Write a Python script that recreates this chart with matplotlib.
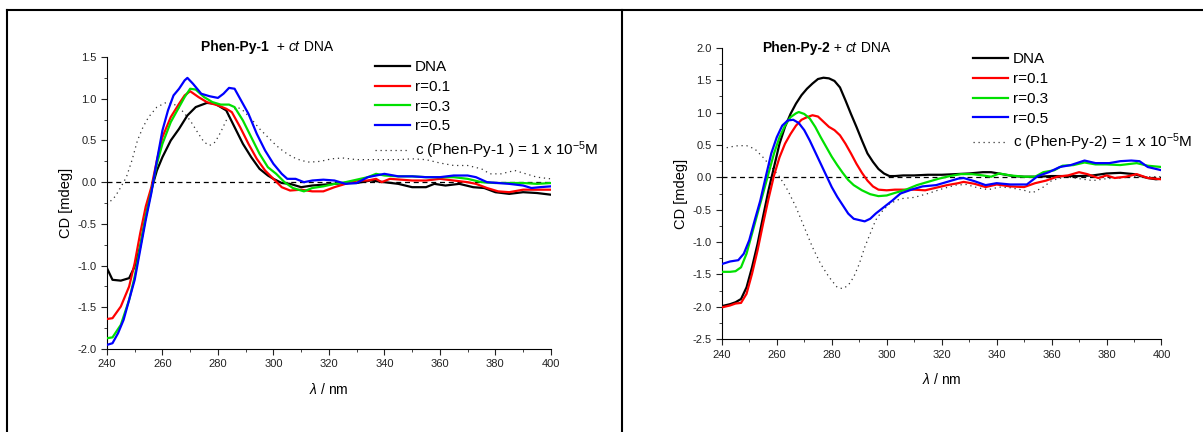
import matplotlib
matplotlib.use("Agg")
import matplotlib.pyplot as plt
from matplotlib.lines import Line2D
from matplotlib.ticker import MultipleLocator

plt.rcParams["font.family"] = ["Liberation Sans", "DejaVu Sans"]
plt.rcParams["mathtext.fontset"] = "custom"
plt.rcParams["mathtext.rm"] = "Liberation Sans"
plt.rcParams["mathtext.it"] = "Liberation Sans:italic"

# ----------------------------
# Data: Phen-Py-1 + ct DNA
# ----------------------------
p1_dna_x = [240, 242, 245, 248, 250, 252, 254, 256, 258, 260, 263, 266, 269, 272, 276, 279, 283, 286,
            289, 292, 295, 298, 300, 303, 306, 310, 314, 318, 322, 326, 330, 335, 340, 345, 350, 355,
            358, 362, 367, 372, 376, 380, 385, 390, 395, 400]
p1_dna_y = [-1.03, -1.17, -1.18, -1.15, -1.01, -0.77, -0.41, -0.09, 0.14, 0.30, 0.50, 0.64, 0.80, 0.90,
            0.95, 0.94, 0.86, 0.66, 0.46, 0.30, 0.16, 0.08, 0.04, -0.01, -0.02, -0.06, -0.04, -0.03,
            -0.02, -0.01, -0.01, 0.02, 0.00, -0.02, -0.06, -0.06, -0.02, -0.04, -0.02, -0.06, -0.07,
            -0.12, -0.14, -0.12, -0.13, -0.15]

p1_r01_x = [240, 242, 245, 248, 250, 252, 254, 256, 258, 260, 263, 266, 268, 270, 273, 276, 280, 283,
            285, 288, 291, 294, 297, 300, 303, 306, 310, 314, 318, 322, 326, 330, 334, 337, 339, 342,
            346, 350, 355, 360, 365, 370, 373, 377, 381, 385, 390, 395, 400]
p1_r01_y = [-1.64, -1.63, -1.49, -1.25, -0.97, -0.61, -0.29, -0.06, 0.26, 0.54, 0.78, 0.94, 1.04, 1.09,
            1.02, 0.96, 0.92, 0.88, 0.84, 0.66, 0.46, 0.28, 0.14, 0.04, -0.06, -0.10, -0.09, -0.11,
            -0.11, -0.06, -0.02, 0.02, 0.02, 0.04, 0.00, 0.04, 0.03, 0.02, 0.02, 0.04, 0.02, 0.00,
            -0.02, -0.07, -0.11, -0.12, -0.09, -0.09, -0.09]

p1_r03_x = [240, 242, 245, 248, 250, 252, 254, 256, 258, 260, 263, 266, 268, 270, 272, 275, 278, 281,
            284, 286, 289, 292, 295, 298, 301, 304, 307, 311, 314, 318, 322, 326, 330, 334, 337, 340,
            345, 350, 355, 360, 365, 370, 375, 380, 385, 390, 395, 400]
p1_r03_y = [-1.87, -1.86, -1.71, -1.41, -1.13, -0.77, -0.41, -0.11, 0.22, 0.46, 0.72, 0.90, 1.02, 1.12,
            1.11, 1.02, 0.96, 0.93, 0.93, 0.90, 0.74, 0.54, 0.34, 0.18, 0.10, 0.00, -0.07, -0.11, -0.07,
            -0.05, -0.02, 0.00, 0.03, 0.06, 0.10, 0.08, 0.07, 0.07, 0.06, 0.06, 0.06, 0.04, 0.00,
            -0.01, -0.01, -0.01, -0.02, -0.01]

p1_r05_x = [240, 242, 244, 246, 248, 250, 252, 254, 256, 258, 260, 262, 264, 266, 268, 269, 271, 274,
            277, 280, 282, 284, 286, 288, 291, 294, 297, 300, 303, 305, 308, 311, 314, 318, 322, 326,
            330, 334, 337, 340, 345, 350, 355, 360, 365, 370, 373, 377, 381, 385, 390, 393, 396, 400]
p1_r05_y = [-1.95, -1.93, -1.81, -1.65, -1.41, -1.17, -0.81, -0.45, -0.13, 0.26, 0.62, 0.86, 1.04, 1.12,
            1.22, 1.25, 1.18, 1.06, 1.03, 1.01, 1.06, 1.13, 1.12, 1.00, 0.82, 0.58, 0.38, 0.22, 0.10,
            0.04, 0.04, 0.00, 0.02, 0.03, 0.02, -0.02, -0.01, 0.06, 0.08, 0.10, 0.07, 0.07, 0.06, 0.06,
            0.08, 0.08, 0.06, 0.00, -0.01, -0.02, -0.04, -0.07, -0.06, -0.05]

p1_free_x = [240, 243, 245, 247, 249, 251, 253, 255, 258, 261, 264, 267, 270, 273, 275, 277, 279, 281,
             283, 285, 287, 289, 292, 295, 298, 301, 304, 307, 310, 313, 317, 321, 325, 330, 335, 340,
             345, 350, 355, 360, 365, 370, 375, 378, 382, 387, 391, 395, 400]
p1_free_y = [-0.27, -0.17, -0.06, 0.06, 0.26, 0.50, 0.66, 0.78, 0.90, 0.95, 0.94, 0.86, 0.74, 0.58, 0.48,
             0.44, 0.48, 0.60, 0.74, 0.86, 0.90, 0.86, 0.76, 0.64, 0.54, 0.44, 0.36, 0.30, 0.26, 0.24,
             0.25, 0.28, 0.29, 0.27, 0.27, 0.27, 0.27, 0.28, 0.27, 0.23, 0.20, 0.20, 0.16, 0.10, 0.10,
             0.14, 0.10, 0.06, 0.04]

# ----------------------------
# Data: Phen-Py-2 + ct DNA
# ----------------------------
p2_dna_x = [240, 243, 245, 247, 249, 251, 253, 255, 257, 259, 261, 263, 265, 267, 269, 271, 273, 275,
            277, 279, 281, 283, 285, 287, 289, 291, 293, 295, 297, 299, 301, 303, 306, 310, 315, 320,
            325, 330, 335, 338, 342, 346, 350, 355, 360, 365, 370, 375, 380, 385, 390, 395, 398, 400]
p2_dna_y = [-1.99, -1.96, -1.93, -1.88, -1.70, -1.39, -1.03, -0.61, -0.20, 0.16, 0.52, 0.78, 0.98, 1.14,
            1.27, 1.37, 1.45, 1.52, 1.54, 1.53, 1.49, 1.39, 1.19, 0.98, 0.78, 0.57, 0.37, 0.24, 0.13,
            0.06, 0.02, 0.02, 0.03, 0.03, 0.04, 0.04, 0.05, 0.06, 0.08, 0.08, 0.05, 0.02, 0.01, 0.01,
            0.02, 0.02, 0.02, 0.03, 0.06, 0.07, 0.05, -0.01, -0.03, -0.02]

p2_r01_x = [240, 243, 245, 247, 249, 251, 253, 255, 257, 259, 261, 263, 265, 267, 269, 271, 273, 275,
            277, 279, 281, 283, 285, 287, 289, 291, 293, 295, 297, 300, 303, 306, 310, 314, 318, 322,
            326, 328, 332, 336, 340, 345, 350, 354, 358, 362, 366, 370, 373, 377, 380, 383, 387, 391,
            395, 400]
p2_r01_y = [-2.01, -1.98, -1.95, -1.94, -1.80, -1.49, -1.13, -0.72, -0.33, 0.03, 0.31, 0.52, 0.67, 0.80,
            0.89, 0.93, 0.96, 0.94, 0.86, 0.78, 0.73, 0.65, 0.52, 0.37, 0.21, 0.07, -0.05, -0.14, -0.19,
            -0.20, -0.19, -0.19, -0.19, -0.20, -0.16, -0.12, -0.09, -0.07, -0.10, -0.15, -0.11, -0.14,
            -0.15, -0.09, -0.05, 0.01, 0.03, 0.08, 0.05, -0.01, 0.03, -0.01, 0.01, 0.05, -0.01, -0.03]

p2_r03_x = [240, 243, 245, 247, 249, 251, 253, 255, 257, 259, 261, 263, 265, 267, 268, 270, 272, 274,
            276, 278, 280, 282, 284, 286, 288, 291, 294, 297, 300, 303, 307, 311, 315, 319, 323, 327,
            331, 335, 338, 341, 345, 350, 354, 357, 361, 364, 368, 372, 376, 380, 385, 391, 395, 400]
p2_r03_y = [-1.46, -1.46, -1.45, -1.39, -1.18, -0.87, -0.56, -0.25, 0.06, 0.37, 0.62, 0.80, 0.93, 0.99,
            1.01, 0.98, 0.91, 0.78, 0.62, 0.47, 0.32, 0.19, 0.07, -0.04, -0.12, -0.20, -0.26, -0.29,
            -0.28, -0.24, -0.19, -0.12, -0.07, -0.02, 0.02, 0.05, 0.05, 0.03, 0.01, 0.06, 0.03, 0.01,
            0.01, 0.08, 0.11, 0.18, 0.19, 0.23, 0.20, 0.20, 0.19, 0.22, 0.18, 0.16]

p2_r05_x = [240, 243, 246, 248, 250, 252, 254, 256, 258, 260, 262, 264, 266, 268, 270, 272, 274, 276,
            278, 280, 282, 284, 286, 288, 290, 292, 294, 296, 299, 302, 305, 309, 313, 318, 322, 326,
            328, 332, 336, 340, 345, 351, 355, 359, 363, 367, 372, 376, 381, 385, 389, 392, 395, 400]
p2_r05_y = [-1.34, -1.30, -1.28, -1.18, -0.97, -0.66, -0.36, 0.01, 0.37, 0.62, 0.80, 0.88, 0.89, 0.84,
            0.73, 0.57, 0.39, 0.21, 0.03, -0.15, -0.30, -0.43, -0.56, -0.64, -0.66, -0.68, -0.64, -0.56,
            -0.46, -0.36, -0.25, -0.19, -0.14, -0.12, -0.07, -0.02, -0.01, -0.06, -0.12, -0.09, -0.11,
            -0.11, 0.02, 0.08, 0.16, 0.19, 0.26, 0.22, 0.22, 0.25, 0.26, 0.25, 0.16, 0.11]

p2_free_x = [240, 243, 246, 249, 252, 255, 258, 261, 264, 267, 270, 273, 276, 279, 282, 284, 286, 288,
             290, 292, 294, 296, 298, 301, 305, 310, 315, 320, 325, 329, 333, 337, 341, 345, 350, 353,
             357, 360, 365, 370, 375, 380, 385, 390, 395, 400]
p2_free_y = [0.44, 0.47, 0.49, 0.49, 0.44, 0.31, 0.16, 0.01, -0.20, -0.46, -0.77, -1.08, -1.34, -1.54,
             -1.70, -1.72, -1.67, -1.54, -1.34, -1.08, -0.87, -0.66, -0.54, -0.41, -0.33, -0.31, -0.25,
             -0.18, -0.12, -0.11, -0.16, -0.19, -0.15, -0.16, -0.20, -0.24, -0.15, -0.05, 0.01, -0.02,
             -0.05, -0.02, -0.01, 0.01, 0.01, 0.01]

labels = ["DNA", "r=0.1", "r=0.3", "r=0.5"]
colors = ["#000000", "#ff0000", "#00e000", "#0000ff"]


def style_axes(ax, ylo, yhi):
    ax.set_xlim(240, 400)
    ax.set_ylim(ylo, yhi)
    ax.spines["top"].set_visible(False)
    ax.spines["right"].set_visible(False)
    ax.xaxis.set_major_locator(MultipleLocator(20))
    ax.xaxis.set_minor_locator(MultipleLocator(10))
    ax.yaxis.set_major_locator(MultipleLocator(0.5))
    ax.yaxis.set_minor_locator(MultipleLocator(0.25))
    ax.tick_params(which="both", direction="out", labelsize=8, colors="#222222")
    ax.tick_params(which="major", length=4)
    ax.tick_params(which="minor", length=2.5)
    ax.yaxis.set_major_formatter(plt.FuncFormatter(lambda v, p: f"{v:.1f}"))
    ax.axhline(0, color="black", lw=0.9, ls=(0, (4, 3)), zorder=1)
    ax.set_xlabel(r"$\mathit{\lambda}$ / nm", fontsize=10, labelpad=9)
    ax.set_ylabel("CD [mdeg]", fontsize=10.5, labelpad=3)


def draw_panel(ax, series, free_x, free_y, free_label):
    handles = []
    for (x, y), lab, c in zip(series, labels, colors):
        h, = ax.plot(x, y, color=c, lw=1.6, label=lab, zorder=3)
        handles.append(h)
    h, = ax.plot(free_x, free_y, color="#333333", lw=0.9, ls=(0, (1, 3)), label=free_label, zorder=2)
    handles.append(h)
    return handles


def add_title(ax, x, y, name):
    t1 = ax.text(x, y, name, transform=ax.transAxes, fontsize=10, fontweight="bold",
                 ha="left", va="baseline")
    t2 = ax.annotate(" + ", xy=(1, 0), xycoords=t1, fontsize=10, va="bottom")
    t3 = ax.annotate("ct", xy=(1, 0), xycoords=t2, fontsize=10, style="italic", va="bottom")
    ax.annotate(" DNA", xy=(1, 0), xycoords=t3, fontsize=10, va="bottom")


def add_legend(ax, handles, x, y):
    ax.legend(handles=handles, loc="upper left", bbox_to_anchor=(x, y), bbox_transform=fig.transFigure,
              frameon=False, fontsize=11, handlelength=2.3, handletextpad=0.33, labelspacing=0.38,
              borderaxespad=0, borderpad=0)


fig = plt.figure(figsize=(12.03, 4.32), dpi=100)

ax1 = fig.add_axes([0.0889, 0.192, 0.369, 0.676])
style_axes(ax1, -2.0, 1.5)
h1 = draw_panel(ax1,
                [(p1_dna_x, p1_dna_y), (p1_r01_x, p1_r01_y), (p1_r03_x, p1_r03_y), (p1_r05_x, p1_r05_y)],
                p1_free_x, p1_free_y, r"c (Phen-Py-1 ) = 1 x 10$^{-5}$M")
add_title(ax1, 0.213, 1.02, "Phen-Py-1 ")
add_legend(ax1, h1, 0.3117, 0.861)

ax2 = fig.add_axes([0.600, 0.215, 0.3655, 0.674])
style_axes(ax2, -2.5, 2.0)
h2 = draw_panel(ax2,
                [(p2_dna_x, p2_dna_y), (p2_r01_x, p2_r01_y), (p2_r03_x, p2_r03_y), (p2_r05_x, p2_r05_y)],
                p2_free_x, p2_free_y, r"c (Phen-Py-2) = 1 x 10$^{-5}$M")
add_title(ax2, 0.092, 0.985, "Phen-Py-2")
add_legend(ax2, h2, 0.8085, 0.879)

# table-like frame around the two panels
W, H = 1203.0, 432.0
for xs, ys in [((7 / W, 1), (1 - 10 / H, 1 - 10 / H)),
               ((7 / W, 7 / W), (0, 1 - 10 / H)),
               ((622 / W, 622 / W), (0, 1 - 10 / H))]:
    fig.add_artist(Line2D(xs, ys, color="black", lw=1.5, transform=fig.transFigure))

fig.savefig("out.png", dpi=100)
